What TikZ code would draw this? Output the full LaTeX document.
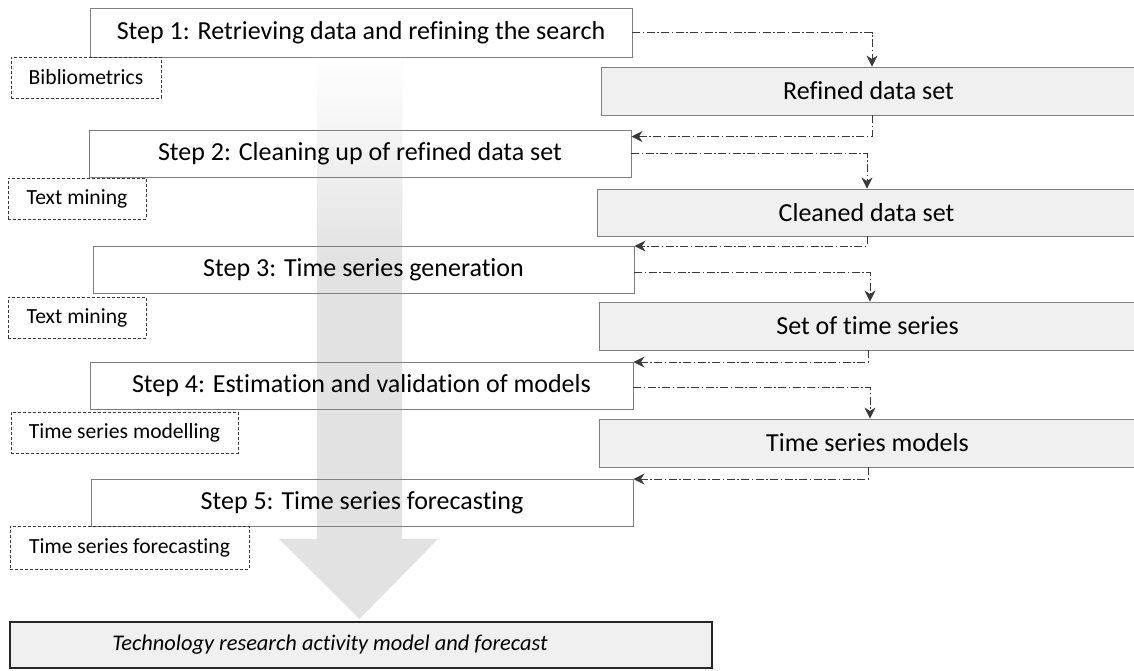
\documentclass[tikz,border=0pt]{standalone}
\usepackage{fontspec}
\setmainfont{Carlito}[Ligatures={NoCommon}]
\usetikzlibrary{arrows.meta,calc}
\definecolor{boxline}{HTML}{7F7F7F}
\definecolor{datafill}{HTML}{F0F0F0}
\definecolor{arrowgray}{HTML}{E2E2E2}
\definecolor{conn}{HTML}{3A3A3A}
\tikzset{
  stepbox/.style={draw=boxline, line width=0.9pt, inner sep=0pt, font=\fontsize{26}{30}\selectfont},
  databox/.style={draw=boxline, fill=datafill, line width=0.9pt, inner sep=0pt, font=\fontsize{26}{30}\selectfont},
  toolbox/.style={draw=conn, dash pattern=on 3pt off 2pt, line width=0.8pt, inner sep=0pt, font=\fontsize{21.6}{25}\selectfont},
  finalbox/.style={draw=black!85, fill=datafill, line width=2pt, inner sep=0pt},
  conn/.style={draw=conn, line width=0.8pt, dash pattern=on 8pt off 2.5pt on 1.5pt off 2.5pt, -{Stealth[length=11pt,width=11pt,inset=3.5pt]}},
}
\begin{document}
\begin{tikzpicture}[x=1pt,y=-1pt]
\useasboundingbox (0,0) rectangle (1134,670);
% big arrow
\fill[arrowgray] (317,57) -- (402,57) -- (402,539) -- (438,539) -- (359.5,619) -- (279,539) -- (317,539) -- cycle;
\shade[top color=white, bottom color=arrowgray] (317,56) rectangle (402,260);
% step boxes
\node[stepbox, minimum width=542pt, minimum height=49pt] (s1) at (361,32.5) {Step 1: Retrieving data and refining the search};
\node[stepbox, minimum width=542pt, minimum height=47pt] (s2) at (360,153.5) {Step 2: Cleaning up of refined data set};
\node[stepbox, minimum width=541pt, minimum height=47pt] (s3) at (363.5,269.5) {Step 3: Time series generation};
\node[stepbox, minimum width=543pt, minimum height=47pt] (s4) at (361.5,385.5) {Step 4: Estimation and validation of models};
\node[stepbox, minimum width=542pt, minimum height=47pt] (s5) at (362,502.5) {Step 5: Time series forecasting};
% tool boxes
\node[toolbox, minimum width=150pt, minimum height=41pt] (t1) at (86,77.5) {Bibliometrics};
\node[toolbox, minimum width=138pt, minimum height=41pt] (t2) at (77,198.5) {Text mining};
\node[toolbox, minimum width=138pt, minimum height=41pt] (t3) at (77,317.5) {Text mining};
\node[toolbox, minimum width=227pt, minimum height=41pt] (t4) at (124.5,432.5) {Time series modelling};
\node[toolbox, minimum width=239pt, minimum height=43pt] (t5) at (129.5,547.5) {Time series forecasting};
% data boxes
\node[databox, minimum width=535pt, minimum height=48pt] (d1) at (868.5,91) {Refined data set};
\node[databox, minimum width=539pt, minimum height=47pt] (d2) at (866.5,212.5) {Cleaned data set};
\node[databox, minimum width=537pt, minimum height=48pt] (d3) at (867.5,326) {Set of time series};
\node[databox, minimum width=537pt, minimum height=48pt] (d4) at (867.5,443) {Time series models};
% final box
\node[finalbox, minimum width=702pt, minimum height=46pt] (f) at (361,645) {};
\node[font=\fontsize{22.4}{27}\selectfont\itshape, inner sep=0pt] (ft) at (330,645) {Technology research activity model and forecast};
% connectors
\draw[conn] (s1.east) -| ([xshift=3.5pt]d1.north);
\draw[conn] ([xshift=3.5pt]d1.south) |- ([yshift=-7pt]s2.north east);
\draw[conn] (s2.east) -| ([xshift=0.5pt]d2.north);
\draw[conn] ([xshift=0.5pt]d2.south) |- ([yshift=-0.5pt]s3.north east);
\draw[conn] ([yshift=-2.5pt]s3.east) -| ([xshift=2.5pt]d3.north);
\draw[conn] ([xshift=0.5pt]d3.south) |- ([yshift=-0.5pt]s4.north east);
\draw[conn] ([yshift=-1.5pt]s4.east) -| ([xshift=2.5pt]d4.north);
\draw[conn] ([xshift=0.5pt]d4.south) |- ([yshift=-0.5pt]s5.north east);
\end{tikzpicture}
\end{document}
